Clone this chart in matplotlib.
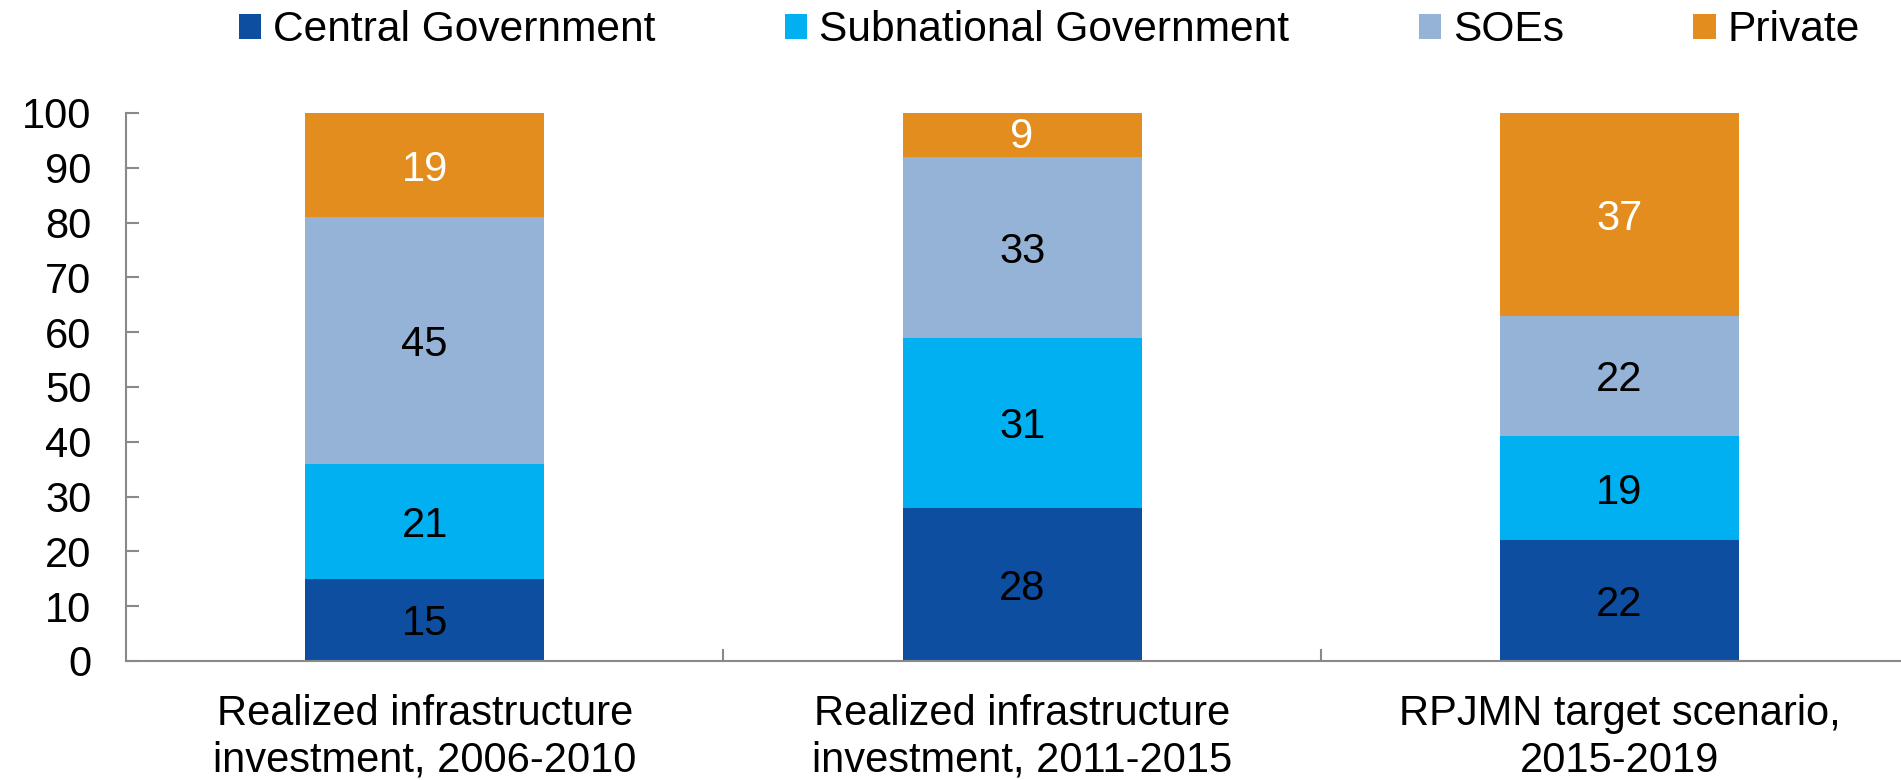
import numpy as np
import matplotlib.pyplot as plt
from matplotlib.patches import Patch

plt.rcParams["font.family"] = ["Liberation Sans", "DejaVu Sans"]

# -----------------------------
# DATA (shares of infrastructure investment, %)
# -----------------------------
categories = [
    "Realized infrastructure\ninvestment, 2006-2010",
    "Realized infrastructure\ninvestment, 2011-2015",
    "RPJMN target scenario,\n2015-2019",
]
series_names = ["Central Government", "Subnational Government", "SOEs", "Private"]
central = [15, 28, 22]
subnational = [21, 31, 19]
soes = [45, 33, 22]
private = [19, 9, 37]

colors = ["#0D4EA1", "#00B0F0", "#95B3D7", "#E38D1F"]
label_colors = ["black", "black", "black", "white"]
AXIS_GRAY = "#898989"
FS = 30

# -----------------------------
# FIGURE
# -----------------------------
fig = plt.figure(figsize=(19.01, 7.80), dpi=100)
ax = fig.add_axes([0.0663, 0.1526, 0.9427, 0.7026])

x = np.arange(len(categories))
bottom = np.zeros(len(categories))
for vals, col, lcol in zip([central, subnational, soes, private], colors, label_colors):
    vals = np.array(vals, dtype=float)
    ax.bar(x, vals, width=0.4, bottom=bottom, color=col, linewidth=0)
    for xi, b, v in zip(x, bottom, vals):
        ax.text(xi, b + v / 2, f"{v:.0f}", ha="center", va="center_baseline",
                fontsize=FS, color=lcol)
    bottom += vals

ax.set_xlim(-0.5, len(categories) - 0.5)
ax.set_ylim(0, 100)
ax.set_yticks(np.arange(0, 101, 10))

# category labels centred, small dividers between groups
ax.set_xticks(x)
ax.set_xticklabels(categories, fontsize=FS)
ax.set_xticks(x[:-1] + 0.5, minor=True)
ax.tick_params(axis="x", which="major", length=0, pad=24)
ax.tick_params(axis="x", which="minor", direction="in", length=9,
               width=1.5, color=AXIS_GRAY)
ax.tick_params(axis="y", direction="in", length=9, width=1.5,
               color=AXIS_GRAY, labelsize=FS, pad=25)

for side in ["top", "right"]:
    ax.spines[side].set_visible(False)
for side in ["left", "bottom"]:
    ax.spines[side].set_color(AXIS_GRAY)
    ax.spines[side].set_linewidth(1.5)

handles = [Patch(facecolor=c, edgecolor="none") for c in colors]
fig.legend(handles, series_names, loc="center", bbox_to_anchor=(0.552, 0.961),
           ncol=4, frameon=False, fontsize=30.6, handlelength=0.52,
           handleheight=0.52, handletextpad=0.28, columnspacing=3.05,
           borderpad=0, borderaxespad=0)

plt.savefig("out.png", dpi=100)
